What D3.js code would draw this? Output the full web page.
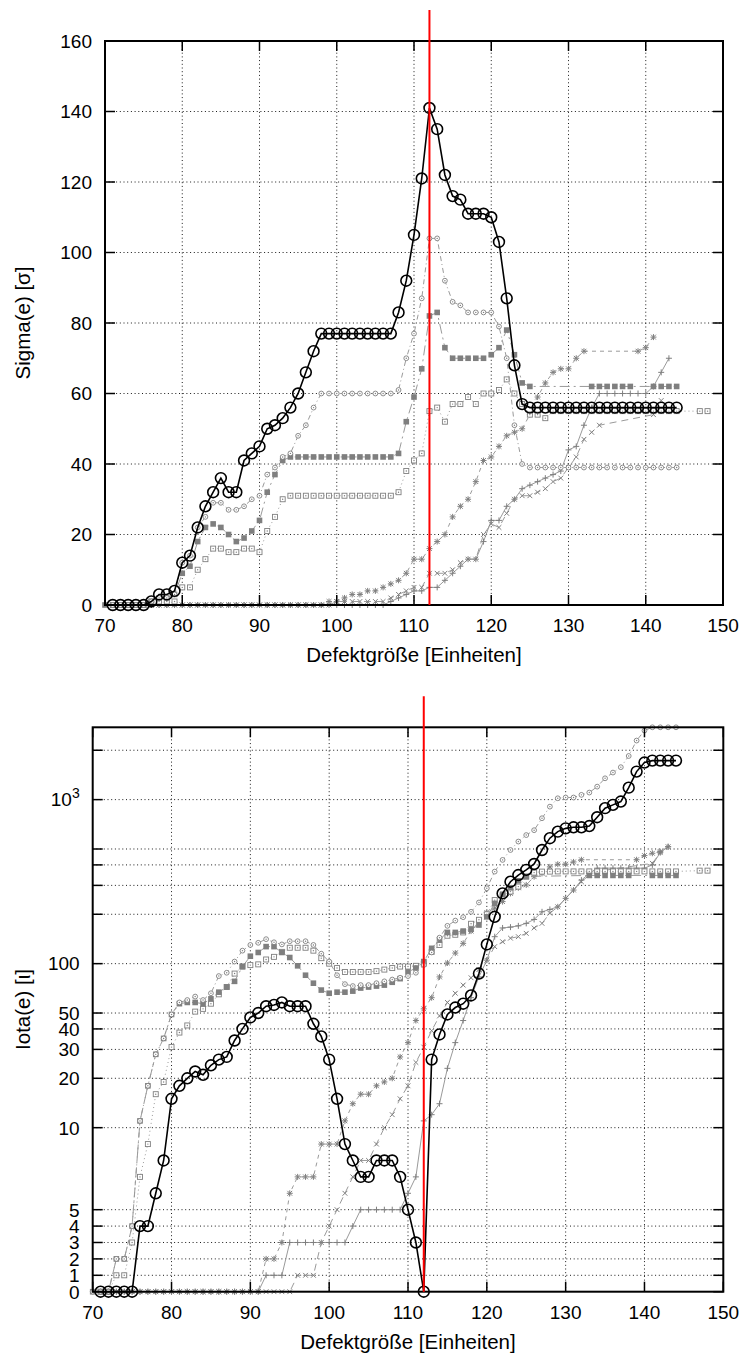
<!DOCTYPE html>
<html><head><meta charset="utf-8">
<script src="https://cdn.jsdelivr.net/npm/d3@7"></script>
<style>
body{margin:0;background:#fff}
svg{display:block}
text{font-family:"Liberation Sans",Arial,Helvetica,sans-serif;fill:#000}
</style>
</head><body>
<svg id="c" width="747" height="1356"></svg>
<script>
// ---------------- DATA ----------------
const xTicks = [70, 80, 90, 100, 110, 120, 130, 140, 150];
const sigmaTicks = [0, 20, 40, 60, 80, 100, 120, 140, 160];
const iotaTicks = [0, 1, 2, 3, 4, 5, 10, 20, 30, 40, 50, 100, 200, 300, 400, 500, 1000, 2000];
const iotaTickLabels = ["0", "1", "2", "3", "4", "5", "10", "20", "30", "40", "50", "100", "", "", "", "", "10^3", ""];
const iotaMax = 2760;
const markerX = 112;
const xTitle = "Defektgröße [Einheiten]";
const sigmaTitle = "Sigma(e) [σ]";
const iotaTitle = "Iota(e) [ι]";

// Sigma panel: each series starts at the given x, one value per integer x (null = no point)
const sigBlackStart = 71;
const sigBlack = [0,0,0,0,0, 1,3,3,4,
  12,14,22,28,32,36,32,32,41,43,
  45,50,51,53,56,60,66,72,77,77,
  77,77,77,77,77,77,77,77,83,92,
  105,121,141,135,122,116,115,111,111,111,
  110,103,87,68,57,56,56,56,56,56,
  56,56,56,56,56,56,56,56,56,56,
  56,56,56,56,56];
const sigCircDotStart = 71;
const sigCircDot = [0,0,0,0,0, 1,2,2,3,
  12,14,22,25,29,29,27,27,28,30,
  31,37,39,42,43,48,51,56,60,60,
  60,60,60,60,60,60,60,60,61,70,
  77,87,104,104,92,86,85,83,83,83,
  83,79,70,51,40,39,39,39,39,39,
  39,39,39,39,39,39,39,39,39,39,
  39,39,39,39,39];
const sigSqFillStart = 70;
const sigSqFill = [0,0,0,0,0,0, 1,2,2,3,
  9,11,18,22,23,22,20,18,19,21,
  24,32,37,41,42,42,42,42,42,42,
  42,42,42,42,42,42,42,42,43,52,
  59,67,82,83,73,70,70,70,70,70,
  71,73,78,71,63,62,null,null,null,null,
  null,null,null,62,62,62,62,62,62,null,
  null,62,62,62,62];
const sigSqDotStart = 71;
const sigSqDot = [0,0,0,0,0, 1,1,1,1,
  5,5,10,13,16,16,15,15,16,16,
  15,21,25,30,31,31,31,31,31,31,
  31,31,31,31,31,31,31,31,32,38,
  41,43,55,56,52,57,57,59,57,60,
  60,61,64,60,57,54,54,53,55,55,
  55,55,55,55,55,55,55,55,55,55,
  55,55,55,55,55,null,null,55,55];
const sigStarStart = 71;
const sigStar = [0,0,0,0,0,0,0,0,0,0,
  0,0,0,0,0,0,0,0,0,0,
  0,0,0,0,0,0,0,0,1,1,
  2,3,3,4,4,5,6,7,9,13,
  13,16,18,20,25,28,30,35,41,42,
  45,48,49,50,54,59,63,66,67,67,
  70,72,null,null,null,null,null,null,72,73,
  76];
const sigCrossStart = 71;
const sigCross = [0,0,0,0,0,0,0,0,0,0,
  0,0,0,0,0,0,0,0,0,0,
  0,0,0,0,0,0,0,0,0,1,
  1,1,1,1,1,1,2,3,4,5,
  5,9,9,9,10,12,13,13,20,23,
  22,26,30,31,31,32,33,35,36,39,
  42,47,49,51,null,null,null,null,null,null,
  54,58];
const sigPlusStart = 71;
const sigPlus = [0,0,0,0,0,0,0,0,0,0,
  0,0,0,0,0,0,0,0,0,0,
  0,0,0,0,0,0,0,0,0,0,
  0,0,0,0,0,0,1,2,3,4,
  4,5,5,7,9,11,13,13,18,24,
  24,28,30,33,34,35,36,37,38,44,
  45,51,56,60,60,60,60,60,60,60,
  62,66,70];

// Iota panel
const ioBlackStart = 71;
const ioBlack = [0,0,0,0,0, 4,4,6,8,
  15,18,20,22,21,24,26,27,34,40,
  47,50,55,56,58,55,55,55,43,36,
  26,15,9,8,7,7,8,8,8,7,
  5,3,0,26,37,49,54,57,64,87,
  131,193,268,316,347,373,405,493,582,638,
  668,678,678,690,781,887,929,973,1183,1482,
  1683,1729,1729,1729,1729];
const ioCircDotStart = 70;
const ioCircDot = [0,0,0,2,2,4, 11,18,28,35,
  49,58,60,63,60,66,84,88,103,120,
  130,134,141,135,131,137,137,137,130,115,
  103,85,75,73,74,74,76,78,80,82,
  84,88,98,117,144,170,183,192,207,236,
  288,364,429,493,555,608,651,770,906,1019,
  1030,1030,1069,1104,1200,1349,1462,1577,1845,2291,
  2637,2760,2760,2760,2760];
const ioSqFillStart = 70;
const ioSqFill = [0,0,0,2,2,4, 11,18,28,35,
  49,57,58,58,57,61,67,72,78,96,
  111,117,127,127,117,109,97,85,76,69,
  66,67,67,68,71,72,73,74,77,81,
  89,94,103,124,140,155,155,158,162,172,
  193,233,265,290,320,340,null,null,null,null,
  null,null,null,345,345,345,345,345,345,null,
  null,345,345,345,345];
const ioSqDotStart = 71;
const ioSqDot = [0,0,1,1,3, 7,9,16,19,
  31,38,42,51,53,57,65,72,87,96,
  98,99,106,110,118,125,125,125,120,108,
  100,94,89,89,89,89,90,92,94,96,
  96,97,100,118,130,148,150,155,175,185,
  200,244,260,275,295,339,359,364,364,365,
  365,365,365,365,365,365,365,365,365,365,
  365,365,365,365,365,null,null,369,369];
const ioStarStart = 71;
const ioStar = [0,0,0,0,0,0,0,0,0,0,
  0,0,0,0,0,0,0,0,0,0,
  0,2,2,3,6,7,7,7,9,9,
  9,11,14,16,16,18,19,20,27,33,
  45,53,62,83,101,116,133,158,180,205,
  218,239,268,290,302,339,355,389,404,404,
  417,430,null,null,null,null,null,null,430,456,
  471,482,516];
const ioCrossStart = 71;
const ioCross = [0,0,0,0,0,0,0,0,0,0,
  0,0,0,0,0,0,0,0,0,0,
  0,0,0,0,0,1,1,1,3,4,
  5,6,7,8,8,9,10,12,15,18,
  25,31,39,48,58,66,74,82,92,105,
  127,136,143,146,153,165,176,203,222,250,
  281,316,347,365,null,null,null,null,null,null,
  409,475];
const ioPlusStart = 71;
const ioPlus = [0,0,0,0,0,0,0,0,0,0,
  0,0,0,0,0,0,0,0,0,0,
  0,1,1,1,3,3,3,3,3,3,
  3,3,4,5,5,5,5,5,5,6,
  7,11,12,14,23,33,45,62,83,105,
  146,165,167,170,176,186,207,214,222,250,
  281,323,355,382,382,382,382,382,382,382,
  400,475,516];

// ---------------- STYLES ----------------
const GRAY_LINE = "#9a9a9a";
const GRAY_MARK = "#7f7f7f";
const styles = {
  plus:    {line: GRAY_LINE, lw: 1, dash: null,       marker: "plus"},
  cross:   {line: GRAY_LINE, lw: 1, dash: "7,5",      marker: "cross"},
  star:    {line: GRAY_LINE, lw: 1, dash: "4,4",      marker: "star"},
  sqDot:   {line: GRAY_LINE, lw: 1, dash: "1,3",      marker: "sqDot"},
  sqFill:  {line: GRAY_LINE, lw: 1, dash: "10,4,2,4", marker: "sqFill"},
  circDot: {line: GRAY_LINE, lw: 1, dash: "5,3,1,3",  marker: "circDot"},
  black:   {line: "#000",    lw: 1.6, dash: null,     marker: "bigCircle"}
};

function toPoints(start, vals) {
  const pts = [];
  vals.forEach((v, i) => { if (v !== null) pts.push({x: start + i, v: v}); });
  return pts;
}

const svg = d3.select("#c");

function drawMarker(g, type, cx, cy) {
  const m = g.append("g").attr("transform", `translate(${cx},${cy})`);
  const s = 3;
  if (type === "bigCircle") {
    m.append("circle").attr("r", 5.4).attr("fill", "none").attr("stroke", "#000").attr("stroke-width", 1.6);
  } else if (type === "circDot") {
    m.append("circle").attr("r", 2.4).attr("fill", "#fff").attr("stroke", GRAY_MARK).attr("stroke-width", 0.9);
    m.append("circle").attr("r", 0.7).attr("fill", GRAY_MARK);
  } else if (type === "sqFill") {
    m.append("rect").attr("x", -2.8).attr("y", -2.8).attr("width", 5.6).attr("height", 5.6).attr("fill", GRAY_MARK);
  } else if (type === "sqDot") {
    m.append("rect").attr("x", -2.5).attr("y", -2.5).attr("width", 5).attr("height", 5)
      .attr("fill", "#fff").attr("stroke", GRAY_MARK).attr("stroke-width", 0.9);
    m.append("circle").attr("r", 0.7).attr("fill", GRAY_MARK);
  } else {
    let d = "";
    if (type === "plus" || type === "star") d += `M${-s},0L${s},0M0,${-s}L0,${s}`;
    if (type === "cross" || type === "star") d += `M${-s*0.8},${-s*0.8}L${s*0.8},${s*0.8}M${-s*0.8},${s*0.8}L${s*0.8},${-s*0.8}`;
    m.append("path").attr("d", d).attr("stroke", GRAY_MARK).attr("stroke-width", 1).attr("fill", "none");
  }
}

function drawPanel(p) {
  const g = svg.append("g");
  const [x0, x1] = p.x.range();
  const yBot = p.yBottom, yTop = p.yTop;

  // grid
  const grid = g.append("g").attr("stroke", "#000").attr("stroke-width", 0.9).attr("stroke-dasharray", "1,2.7");
  xTicks.filter(t => t > 70 && t < 150).forEach(t => {
    grid.append("line").attr("x1", p.x(t)).attr("x2", p.x(t)).attr("y1", yBot).attr("y2", yTop);
  });
  p.yTicks.forEach(t => {
    const yy = p.y(t);
    if (Math.abs(yy - yBot) < 1 || Math.abs(yy - yTop) < 1) return;
    grid.append("line").attr("x1", x0).attr("x2", x1).attr("y1", yy).attr("y2", yy);
  });

  // series
  const line = d3.line().x(d => p.x(d.x)).y(d => p.y(d.v));
  p.series.forEach(s => {
    const st = styles[s.style];
    const pts = toPoints(s.start, s.values);
    g.append("path").attr("d", line(pts)).attr("fill", "none")
      .attr("stroke", st.line).attr("stroke-width", st.lw)
      .attr("stroke-dasharray", st.dash);
    const mg = g.append("g");
    pts.forEach(d => drawMarker(mg, st.marker, p.x(d.x), p.y(d.v)));
  });

  // frame + ticks
  const ax = g.append("g").attr("stroke", "#000");
  ax.append("rect").attr("x", x0).attr("y", yTop).attr("width", x1 - x0).attr("height", yBot - yTop)
    .attr("fill", "none").attr("stroke-width", 2);
  const tl = 10;
  xTicks.forEach(t => {
    const xx = p.x(t);
    ax.append("line").attr("x1", xx).attr("x2", xx).attr("y1", yBot).attr("y2", yBot - tl).attr("stroke-width", 1.5);
    ax.append("line").attr("x1", xx).attr("x2", xx).attr("y1", yTop).attr("y2", yTop + tl).attr("stroke-width", 1.5);
    g.append("text").attr("x", xx).attr("y", yBot + 27).attr("text-anchor", "middle")
      .attr("font-size", 19).text(t);
  });
  p.yTicks.forEach((t, i) => {
    const yy = p.y(t);
    ax.append("line").attr("x1", x0).attr("x2", x0 + tl).attr("y1", yy).attr("y2", yy).attr("stroke-width", 1.5);
    ax.append("line").attr("x1", x1).attr("x2", x1 - tl).attr("y1", yy).attr("y2", yy).attr("stroke-width", 1.5);
    const lab = p.yLabels[i];
    if (!lab) return;
    const tx = g.append("text").attr("x", x0 - 13).attr("y", yy).attr("dy", "0.36em")
      .attr("text-anchor", "end").attr("font-size", 19);
    if (lab.includes("^")) {
      const [b, e] = lab.split("^");
      tx.append("tspan").text(b);
      tx.append("tspan").attr("dy", -8).attr("font-size", 14).text(e);
    } else tx.text(lab);
  });

  // titles
  g.append("text").attr("x", (x0 + x1) / 2).attr("y", yBot + 57).attr("text-anchor", "middle")
    .attr("font-size", 20.5).text(xTitle);
  g.append("text").attr("transform", `translate(30,${(yTop + yBot) / 2}) rotate(-90)`)
    .attr("text-anchor", "middle").attr("font-size", 20.5).text(p.yTitle);

  // red marker line
  g.append("line").attr("x1", p.x(markerX)).attr("x2", p.x(markerX))
    .attr("y1", yTop - 31).attr("y2", yBot).attr("stroke", "#ff0000").attr("stroke-width", 2);
}

// ---------------- PANELS ----------------
const xTop = d3.scaleLinear().domain([70, 150]).range([105, 723]);
const ySig = d3.scaleLinear().domain([0, 160]).range([605, 41]);

drawPanel({
  x: xTop, y: ySig, yBottom: 605, yTop: 41,
  yTicks: sigmaTicks, yLabels: sigmaTicks.map(String), yTitle: sigmaTitle,
  series: [
    {style: "plus", start: sigPlusStart, values: sigPlus},
    {style: "cross", start: sigCrossStart, values: sigCross},
    {style: "star", start: sigStarStart, values: sigStar},
    {style: "sqDot", start: sigSqDotStart, values: sigSqDot},
    {style: "sqFill", start: sigSqFillStart, values: sigSqFill},
    {style: "circDot", start: sigCircDotStart, values: sigCircDot},
    {style: "black", start: sigBlackStart, values: sigBlack}
  ]
});

// Iota: linear below 10, logarithmic above 10
const tf = v => v <= 10 ? v : 10 + 10 * Math.log10(v / 10);
const xBot = d3.scaleLinear().domain([70, 150]).range([92.7, 723.3]);
const yIoLin = d3.scaleLinear().domain([0, tf(iotaMax)]).range([1291.7, 727.3]);
const yIota = v => yIoLin(tf(v));

drawPanel({
  x: xBot, y: yIota, yBottom: 1291.7, yTop: 727.3,
  yTicks: iotaTicks, yLabels: iotaTickLabels, yTitle: iotaTitle,
  series: [
    {style: "plus", start: ioPlusStart, values: ioPlus},
    {style: "cross", start: ioCrossStart, values: ioCross},
    {style: "star", start: ioStarStart, values: ioStar},
    {style: "sqDot", start: ioSqDotStart, values: ioSqDot},
    {style: "sqFill", start: ioSqFillStart, values: ioSqFill},
    {style: "circDot", start: ioCircDotStart, values: ioCircDot},
    {style: "black", start: ioBlackStart, values: ioBlack}
  ]
});
</script>
</body></html>
